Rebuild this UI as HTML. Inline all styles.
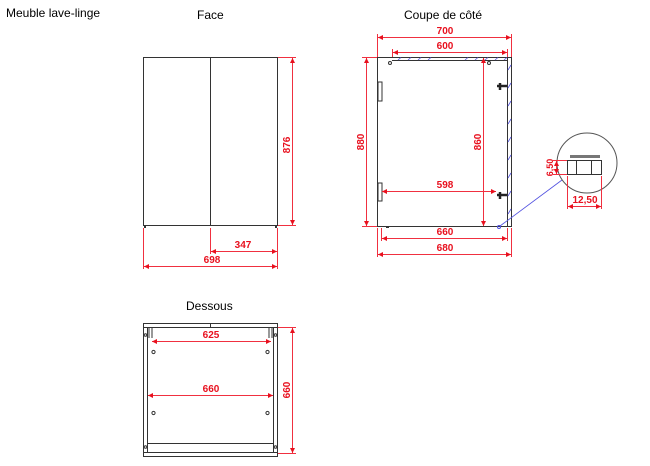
<!DOCTYPE html>
<html><head><meta charset="utf-8"><style>
html,body{margin:0;padding:0;background:#fff;width:650px;height:466px;overflow:hidden}
svg{display:block}
.t{font-family:"Liberation Sans",sans-serif;font-size:12px;fill:#000}
.r{font-family:"Liberation Sans",sans-serif;font-size:10px;font-weight:bold;fill:#e8101e;text-anchor:middle}
.d{stroke:#f03040;stroke-width:1;fill:none}
.k{stroke:#333;stroke-width:1;fill:none}
.h{stroke:#5050e0;stroke-width:0.8}
</style></head><body>
<svg width="650" height="466" viewBox="0 0 650 466">
<defs>
<marker id="a" viewBox="0 0 6 6" refX="6" refY="3" markerWidth="5" markerHeight="5" orient="auto-start-reverse"><path d="M0,0L6,3L0,6z" fill="#e8101e"/></marker>
</defs>
<text class="t" x="6" y="17">Meuble lave-linge</text>
<text class="t" x="197" y="19">Face</text>
<text class="t" x="404" y="19">Coupe de côté</text>
<text class="t" x="186" y="310">Dessous</text>

<!-- Face -->
<rect x="143.5" y="57.5" width="134" height="168" class="k"/>
<line x1="210.5" y1="57" x2="210.5" y2="226" class="k"/>
<rect x="144" y="226" width="2" height="2" fill="#333"/>
<rect x="275" y="226" width="2" height="2" fill="#333"/>
<path class="d" d="M278 57.5H296M278 225.5H296M210.5 228V254M143.5 228V269M277.5 228V269" stroke-width="0.6"/>
<line class="d" x1="292.5" y1="58" x2="292.5" y2="225" marker-start="url(#a)" marker-end="url(#a)"/>
<text class="r" transform="translate(290,145) rotate(-90)">876</text>
<line class="d" x1="211" y1="251.5" x2="277" y2="251.5" marker-start="url(#a)" marker-end="url(#a)"/>
<text class="r" x="243" y="248">347</text>
<line class="d" x1="144" y1="266.5" x2="277" y2="266.5" marker-start="url(#a)" marker-end="url(#a)"/>
<text class="r" x="212" y="263">698</text>

<!-- Coupe -->
<rect x="377.5" y="57.5" width="134" height="169" class="k"/>
<line x1="507.5" y1="57" x2="507.5" y2="227" class="k"/>
<line x1="392" y1="60.5" x2="508" y2="60.5" class="k"/>
<g class="h">
<path d="M398 60L401 57.5M408 60L411 57.5M418 60L421 57.5M428 60L431 57.5M465 60L468 57.5M475 60L478 57.5M485 60L488 57.5M495 60L498 57.5M504 60L507 57.5"/>
<path d="M508 70L511 65M508 88L511 83M508 106L511 101M508 124L511 119M508 142L511 137M508 160L511 155M508 178L511 173M508 196L511 191M508 214L511 209"/>
</g>
<rect x="378" y="82" width="4" height="19" fill="none" stroke="#333"/>
<rect x="378" y="183" width="4" height="18" fill="none" stroke="#333"/>
<circle cx="390" cy="63" r="1.5" class="k"/>
<circle cx="489" cy="63" r="1.5" class="k"/>
<path d="M497 86h10M500 83v7M497 195h10M500 192v7" stroke="#222" stroke-width="2.5"/>
<rect x="386" y="226" width="3" height="2" fill="#333"/>
<circle cx="499" cy="227" r="1.5" fill="none" stroke="#5050e0"/>
<line x1="500" y1="226" x2="562" y2="180" class="h"/>
<path class="d" stroke-width="0.6" d="M377.5 34V57M511.5 34V57M392.5 49V57M507.5 49V57M362 57.5H377M362 226.5H377M381.5 228V241M507.5 228V241M377.5 228V257M511.5 228V257"/>
<line class="d" x1="378" y1="37.5" x2="511" y2="37.5" marker-start="url(#a)" marker-end="url(#a)"/>
<text class="r" x="445" y="34">700</text>
<line class="d" x1="393" y1="52.5" x2="507" y2="52.5" marker-start="url(#a)" marker-end="url(#a)"/>
<text class="r" x="445" y="49">600</text>
<line class="d" x1="366.5" y1="58" x2="366.5" y2="226" marker-start="url(#a)" marker-end="url(#a)"/>
<text class="r" transform="translate(364,142) rotate(-90)">880</text>
<line class="d" x1="483.5" y1="58" x2="483.5" y2="226" marker-start="url(#a)" marker-end="url(#a)"/>
<text class="r" transform="translate(481,142) rotate(-90)">860</text>
<line class="d" x1="382" y1="191.5" x2="496" y2="191.5" marker-start="url(#a)" marker-end="url(#a)"/>
<text class="r" x="445" y="188">598</text>
<line class="d" x1="382" y1="238.5" x2="507" y2="238.5" marker-start="url(#a)" marker-end="url(#a)"/>
<text class="r" x="445" y="235">660</text>
<line class="d" x1="378" y1="254.5" x2="511" y2="254.5" marker-start="url(#a)" marker-end="url(#a)"/>
<text class="r" x="445" y="251">680</text>

<!-- detail -->
<circle cx="587" cy="163" r="30" fill="#fff" stroke="#555"/>
<rect x="570" y="155" width="30" height="3" fill="#777"/>
<rect x="567.5" y="160.5" width="34" height="14" class="k"/>
<path class="k" d="M576.5 161v14M591.5 161v14"/>
<path class="d" stroke-width="0.6" d="M553 160.5H567M553 174.5H567M567.5 176V209M601.5 176V209"/>
<line class="d" x1="556.5" y1="161" x2="556.5" y2="174" marker-start="url(#a)" marker-end="url(#a)"/>
<text class="r" transform="translate(553,167.5) rotate(-90)" style="font-size:9px">6,50</text>
<line class="d" x1="568" y1="206.5" x2="601" y2="206.5" marker-start="url(#a)" marker-end="url(#a)"/>
<text class="r" x="585" y="203">12,50</text>

<!-- Dessous -->
<rect x="143.5" y="323.5" width="134" height="133" class="k"/>
<line x1="143" y1="327.5" x2="278" y2="327.5" class="k"/>
<line x1="210.5" y1="323" x2="210.5" y2="327" class="k"/>
<path class="k" d="M147.5 328V453M273.5 328V453M147 443.5H274M143 452.5H278"/>
<path class="k" d="M149 328v10M152 328v10M269 328v10M272 328v10"/>
<circle cx="145.5" cy="335" r="1.3" class="k"/><circle cx="275.5" cy="335" r="1.3" class="k"/>
<circle cx="145.5" cy="447" r="1.3" class="k"/><circle cx="275.5" cy="447" r="1.3" class="k"/>
<circle cx="153.5" cy="352" r="1.6" class="k"/><circle cx="267.5" cy="352" r="1.6" class="k"/>
<circle cx="153.5" cy="413" r="1.6" class="k"/><circle cx="267.5" cy="413" r="1.6" class="k"/>
<path class="d" stroke-width="0.6" d="M278 327.5H296M278 453.5H296"/>
<line class="d" x1="152" y1="341.5" x2="271" y2="341.5" marker-start="url(#a)" marker-end="url(#a)"/>
<text class="r" x="211" y="338">625</text>
<line class="d" x1="148" y1="395.5" x2="273" y2="395.5" marker-start="url(#a)" marker-end="url(#a)"/>
<text class="r" x="211" y="392">660</text>
<line class="d" x1="292.5" y1="328" x2="292.5" y2="453" marker-start="url(#a)" marker-end="url(#a)"/>
<text class="r" transform="translate(290,390) rotate(-90)">660</text>
</svg>
</body></html>
